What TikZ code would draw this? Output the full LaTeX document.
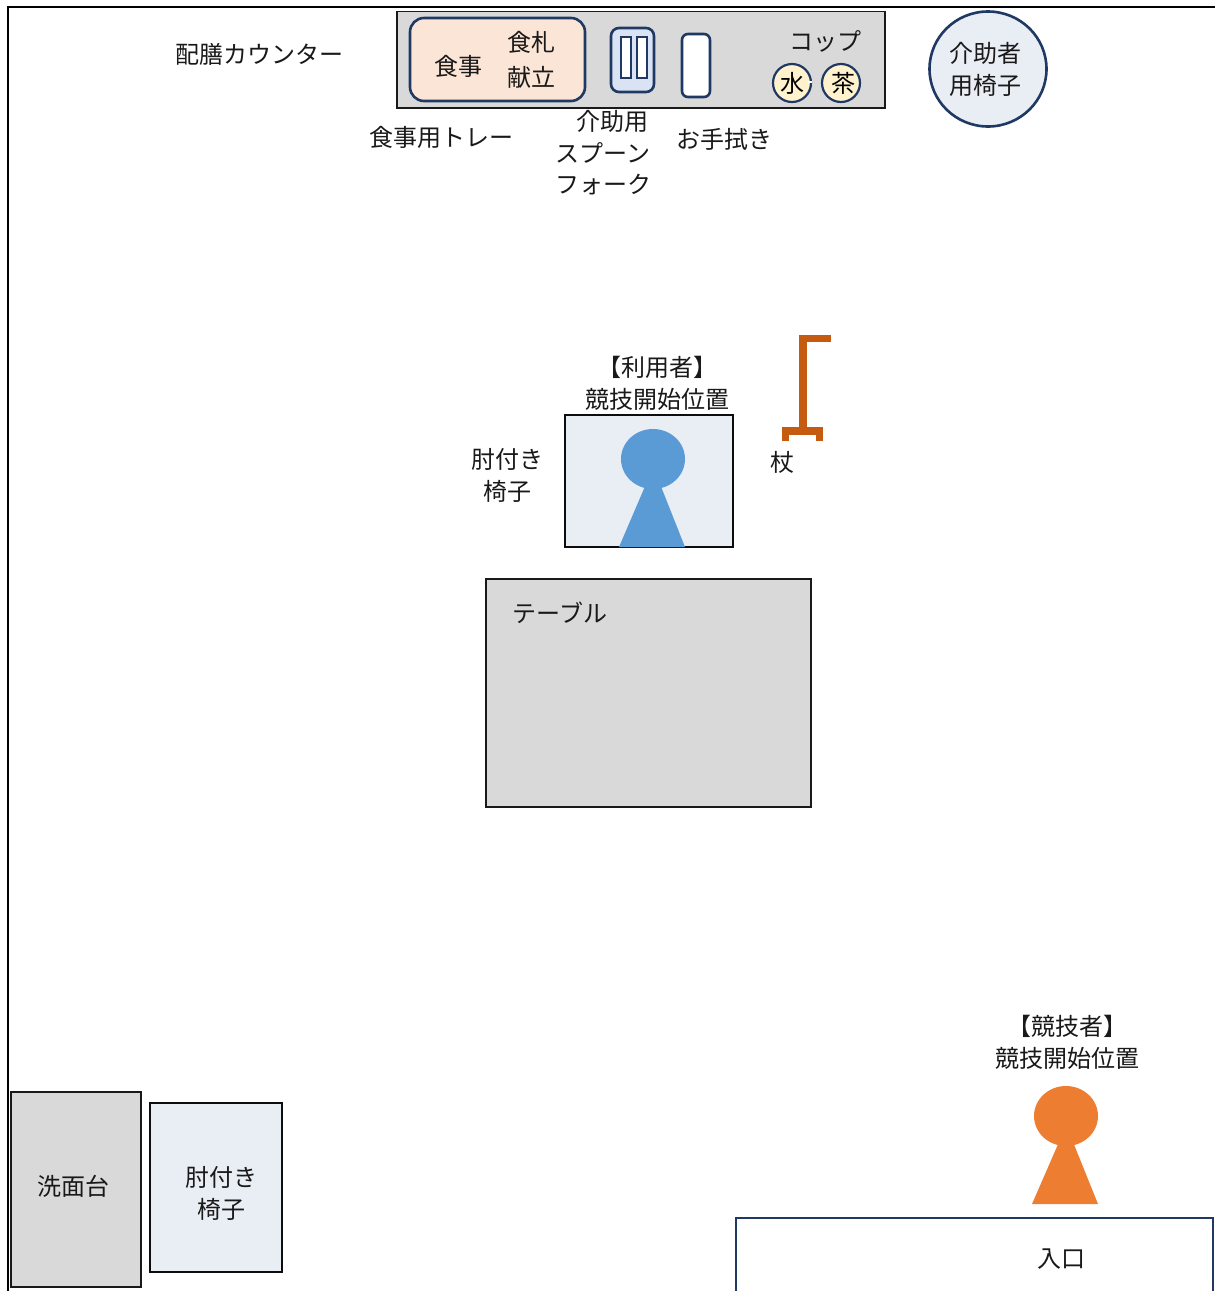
\documentclass[tikz,border=0pt]{standalone}
\usepackage{fontspec}
\setmainfont{Noto Sans CJK JP}
\usetikzlibrary{shapes.geometric}
\definecolor{counterGray}{HTML}{D9D9D9}
\definecolor{chairBlue}{HTML}{E9EDF4}
\definecolor{trayPeach}{HTML}{FBE5D6}
\definecolor{holderBlue}{HTML}{DAE3F3}
\definecolor{cupYellow}{HTML}{FFF2CC}
\definecolor{lineNavy}{HTML}{1F3864}
\definecolor{userBlue}{HTML}{5B9BD5}
\definecolor{playerOrange}{HTML}{ED7D31}
\definecolor{caneBrown}{HTML}{C55A11}
\begin{document}
\begin{tikzpicture}[x=0.5pt, y=-0.5pt,
  lbl/.style={font=\fontsize{12}{16}\selectfont, inner sep=0pt, align=center, text=black!90},
  furn/.style={draw=black!90, line width=0.6pt, fill=counterGray},
  chairbox/.style={draw=black!95, line width=0.6pt, fill=chairBlue},
  navybox/.style={draw=lineNavy, line width=1.3pt, rounded corners=#1},
  cup/.style={circle, draw=lineNavy, line width=1.1pt, fill=cupYellow, minimum size=19pt, inner sep=0pt,
              font=\fontsize{12}{16}\selectfont},
]
\useasboundingbox (0, 0) rectangle (1215, 1291);

% Room walls
\draw[line width=1.1pt] (1215, 7) -- (8, 7) -- (8, 1291);

% Serving counter
\draw[furn] (397, 11.5) rectangle (885, 108);
\draw[navybox=7pt, fill=trayPeach] (410, 18) rectangle (585, 101);
\draw[navybox=4pt, fill=holderBlue] (611, 28) rectangle (654, 92);
\draw[draw=lineNavy, line width=1.1pt, fill=white] (621, 37) rectangle (631, 78);
\draw[draw=lineNavy, line width=1.1pt, fill=white] (637, 37) rectangle (647, 78);
\draw[navybox=3pt, fill=white] (682, 34) rectangle (710, 97);
\node[cup] (mizu) at (792, 83) {水};
\node[cup] (cha) at (841, 83) {\kern2pt 茶};
\draw[white, line width=1pt] (808, 82) -- (812, 82);

% Counter labels
\node[lbl] (haizen) at (259, 54) {配膳カウンター};
\node[lbl] (shokuji) at (458, 66) {食事};
\node[lbl] (fuda) at (531, 42) {食札};
\node[lbl] (kondate) at (531, 77) {献立};
\node[lbl] (koppu) at (825, 41) {コップ};
\node[lbl] (tray) at (441, 137) {食事用トレー};
\node[lbl] (kaijo) at (612, 121) {介助用};
\node[lbl] (spoon) at (603, 153) {スプーン};
\node[lbl] (fork) at (603, 185) {フォーク};
\node[lbl] (oshibori) at (724, 139) {お手拭き};

% Helper chair
\node[ellipse, draw=lineNavy, line width=1.3pt, fill=chairBlue, minimum width=58.5pt, minimum height=57.5pt,
  lbl] (helperchair) at (988, 69) {\kern-2.5pt 介助者\\\kern-2.5pt 用椅子};

% User at start position
\draw[chairbox] (565, 415) rectangle (733, 547);
\fill[userBlue] (619, 547) -- (646, 484) -- (660, 484) -- (685, 547) -- cycle;
\fill[userBlue] (653, 459) ellipse (32 and 30);
\node[lbl] (userlabel) at (657, 383) {【利用者】\\競技開始位置};
\node[lbl] (armchairlabel) at (507, 475) {肘付き\\椅子};

% Cane
\draw[caneBrown, line width=3.7pt] (831, 338.5) -- (803, 338.5) -- (803, 431);
\draw[caneBrown, line width=3.9pt] (785.5, 441) -- (785.5, 431) -- (819.5, 431) -- (819.5, 441);
\node[lbl] (cane) at (782, 462) {杖};

% Table
\draw[furn] (486, 579) rectangle (811, 807);
\node[lbl] (table) at (560, 613) {テーブル};

% Washstand and armchair
\draw[furn] (11, 1092) rectangle (141, 1287);
\node[lbl] (wash) at (74, 1186) {洗面台};
\draw[chairbox] (150, 1103) rectangle (282, 1272);
\node[lbl] (armchair) at (221, 1193) {肘付き\\椅子};

% Competitor and entrance
\fill[playerOrange] (1032, 1204) -- (1059, 1142) -- (1073, 1142) -- (1098, 1204) -- cycle;
\fill[playerOrange] (1066, 1116) ellipse (32 and 30);
\node[lbl] (playerlabel) at (1067, 1042) {【競技者】\\競技開始位置};
\draw[draw=lineNavy, line width=1.3pt] (736, 1291) -- (736, 1218) -- (1213, 1218) -- (1213, 1291);
\node[lbl] (entrance) at (1061, 1259) {入口};
\end{tikzpicture}
\end{document}
